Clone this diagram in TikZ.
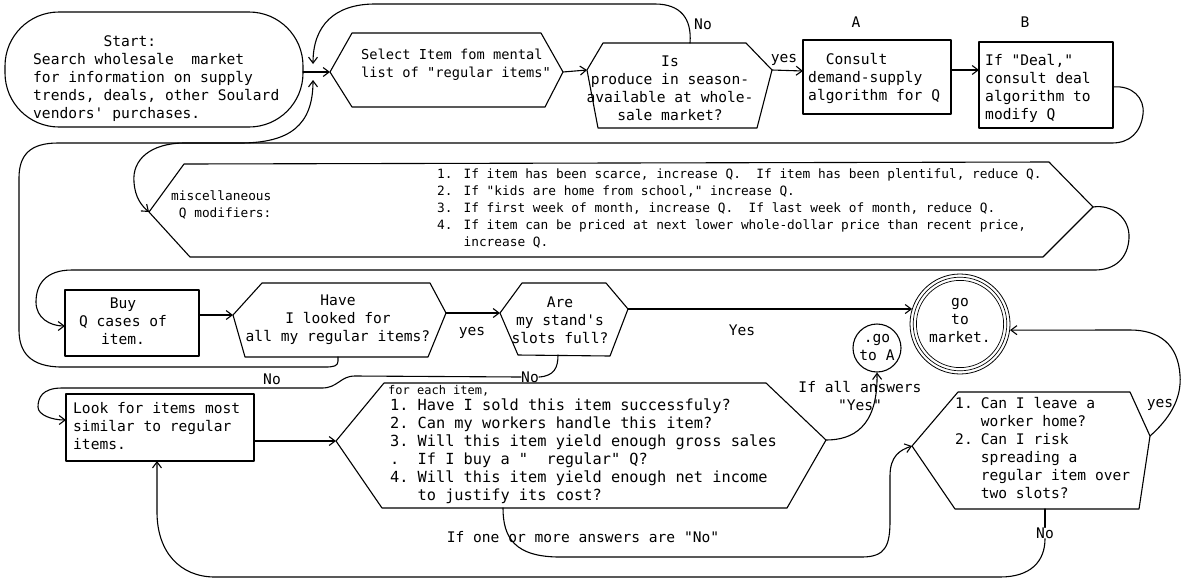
\documentclass[tikz,border=0pt]{standalone}
\usepackage{fontspec}
\setmonofont{DejaVu Sans Mono}
\usetikzlibrary{arrows.meta}
\begin{document}
\begin{tikzpicture}[x=1pt,y=-1pt,
  ln/.style={line width=1.1pt,line cap=round,line join=round},
  arr/.style={ln,-{Straight Barb[length=6pt,width=9pt]}},
  shp/.style={ln},
  tx/.style={font=\ttfamily\fontsize{14.6}{18}\selectfont,inner sep=0pt,align=left},
  txc/.style={tx,align=center},
  tlist/.style={font=\ttfamily\fontsize{15.3}{18}\selectfont,inner sep=0pt},
  tsm/.style={font=\ttfamily\fontsize{12.8}{17.2}\selectfont,inner sep=0pt},
  lab/.style={font=\ttfamily\fontsize{14.6}{17}\selectfont,inner sep=0pt},
]
\useasboundingbox (0,0) rectangle (1185,582);

% ================= Row 1
\draw[shp,rounded corners=54pt] (5,12) rectangle (303,127);
\node[tx,anchor=west] (start) at (33,79) {~~~~~~~~Start:\\Search wholesale~~market\\for information on supply\\trends, deals, other Soulard\\vendors' purchases.};
\coordinate (startE) at (303,72);
\coordinate (Jt) at (313,64);
\coordinate (Jb) at (313,80);

% Select hexagon
\coordinate (selL) at (330,72);
\coordinate (selTL) at (352,33);
\coordinate (selTR) at (541,33);
\coordinate (selR) at (563,72);
\coordinate (selBR) at (545,107);
\coordinate (selBL) at (352,107);
\draw[shp] (selL) -- (selTL) -- (selTR) -- (selR) -- (selBR) -- (selBL) -- cycle;
\node[tx,anchor=west,font=\ttfamily\fontsize{13.7}{18}\selectfont] (seltx) at (361,65) {Select Item fom mental\\list of "regular items"};
\draw[arr] (startE) -- (selL);

% Is produce hexagon
\coordinate (isL) at (587,70);
\coordinate (isTL) at (603,43);
\coordinate (isTR) at (746,43);
\coordinate (isR) at (772,70);
\coordinate (isBR) at (757,128);
\coordinate (isBL) at (598,128);
\coordinate (isTop) at (690,43);
\draw[shp] (isL) -- (isTL) -- (isTR) -- (isR) -- (isBR) -- (isBL) -- cycle;
\node[txc] (istx) at (670,88) {Is\\produce in season-\\available at whole-\\sale market?};
\draw[arr] (selR) -- (isL);
\node[lab] (no1) at (703,24) {No};
\draw[arr] (isTop) .. controls (692,18) and (680,4) .. (655,4) -- (375,4) .. controls (335,4) and (313,25) .. (Jt);

% Consult box (A)
\coordinate (consW) at (803,71);
\coordinate (consE) at (951,70);
\draw[shp] (803,40) rectangle (951,114);
\node[tx,anchor=west] (constx) at (808,78) {~~Consult\\demand-supply\\algorithm for Q};
\node[lab] (lA) at (856,22) {A};
\node[lab] (yes1) at (784,60) {yes};
\draw[arr] (isR) -- (consW);

% Deal box (B)
\coordinate (bW) at (979,70);
\coordinate (bE) at (1113,87);
\draw[shp] (979,42) rectangle (1113,128);
\node[tx,anchor=west] (btx) at (985,88) {If "Deal,"\\consult deal\\algorithm to\\modify Q};
\node[lab] (lB) at (1025,22) {B};
\draw[arr] (consE) -- (bW);

% ================= Row 2 : miscellaneous modifiers
\coordinate (mL) at (149,212);
\coordinate (mTL) at (184,164);
\coordinate (mTR) at (1049,162);
\coordinate (mR) at (1093,207);
\coordinate (mBR) at (1043,257);
\coordinate (mBL) at (190,257);
\draw[shp] (mL) -- (mTL) -- (mTR) -- (mR) -- (mBR) -- (mBL) -- cycle;
\node[tsm,anchor=west,align=left] (misclab) at (171,205) {miscellaneous\\~Q modifiers:};
\node[tsm,anchor=west] (misclist) at (437,209) {\begin{tabular}{@{}l@{\hspace{11pt}}l@{}}
1. & If item has been scarce, increase Q.~~If item has been plentiful, reduce Q.\\
2. & If "kids are home from school," increase Q.\\
3. & If first week of month, increase Q.~~If last week of month, reduce Q.\\
4. & If item can be priced at next lower whole-dollar price than recent price,\\
   & increase Q.
\end{tabular}};

% B -> misc
\draw[arr] (bE) .. controls (1132,85) and (1145,98) .. (1143,114) .. controls (1141,132) and (1130,143) .. (1112,143) -- (185,143) .. controls (150,143) and (132,160) .. (134,182) .. controls (135,198) and (142,206) .. (mL);

% ================= Row 3
\coordinate (buyW) at (65,326);
\coordinate (buyE) at (199,315);
\draw[shp] (65,290) rectangle (199,356);
\node[txc] (buytx) at (123,321) {Buy\\Q cases of\\item.};
\draw[arr] (mR) .. controls (1112,204) and (1130,218) .. (1129,238) .. controls (1128,258) and (1115,270) .. (1095,270) -- (72,270) .. controls (45,270) and (36,285) .. (36,302) .. controls (36,318) and (50,326) .. (buyW);

% Have I looked hexagon
\coordinate (haveL) at (233,315);
\coordinate (haveTL) at (262,283);
\coordinate (haveTR) at (430,283);
\coordinate (haveR) at (446,313);
\coordinate (haveBR) at (428,357);
\coordinate (haveBL) at (245,357);
\coordinate (haveB) at (338,357);
\draw[shp] (haveL) -- (haveTL) -- (haveTR) -- (haveR) -- (haveBR) -- (haveBL) -- cycle;
\node[txc] (havetx) at (338,320) {Have\\I looked for\\all my regular items?};
\draw[arr] (buyE) -- (haveL);

% Are slots full hexagon
\coordinate (areL) at (500,313);
\coordinate (areTL) at (522,283);
\coordinate (areTR) at (606,283);
\coordinate (areR) at (628,309);
\coordinate (areBR) at (610,356);
\coordinate (areBL) at (518,355);
\coordinate (areB) at (558,355);
\draw[shp] (areL) -- (areTL) -- (areTR) -- (areR) -- (areBR) -- (areBL) -- cycle;
\node[txc] (aretx) at (560,320) {Are\\my stand's\\slots full?};
\node[lab] (yes2) at (472,333) {yes};
\draw[arr] (haveR) -- (areL);

% go to market
\node[circle,draw,line width=0.8pt,minimum size=100pt,inner sep=0pt] (mk) at (960,324) {};
\draw[line width=0.7pt] (mk.center) circle[radius=46.8pt];
\draw[line width=0.7pt] (mk.center) circle[radius=43.6pt];
\node[txc] (mktx) at (960,321) {go\\to\\market.};
\node[lab] (yes3) at (742,330) {Yes};
\draw[arr] (areR) -- (areR -| mk.162);

% go to A
\node[circle,draw,ln,minimum size=48pt,inner sep=0pt,txc] (ga) at (877,348) {.go\\to A};
\node[txc] (ifall) at (860,396) {If all answers\\"Yes"};

% Have -> No loop back to select
\node[lab] (noHave) at (272,379) {No};
\draw[arr] (haveB) -- (338,361) .. controls (338,366) and (334,367) .. (325,367) -- (62,367) .. controls (30,367) and (19,352) .. (19,330) -- (19,178) .. controls (19,155) and (30,143) .. (58,143) -- (240,143) .. controls (290,143) and (313,125) .. (Jb);

% Are -> No loop to Look
\node[lab] (noAre) at (530,377) {No};
\coordinate (lookW) at (66,420);
\draw[ln] (areB) .. controls (558,368) and (554,376) .. (noAre.east);
\draw[arr] (noAre.west) -- (355,376) .. controls (340,376) and (338,388) .. (322,388) -- (62,388) .. controls (42,388) and (38,398) .. (38,407) .. controls (38,415) and (52,420) .. (lookW);

% ================= Row 4
\coordinate (lookE) at (254,441);
\coordinate (lookS) at (157,461);
\draw[shp] (66,394) rectangle (254,461);
\node[tx,anchor=west] (looktx) at (73,426) {Look for items most\\similar to regular\\items.};

% Questions hexagon
\coordinate (qL) at (336,441);
\coordinate (qTL) at (384,383);
\coordinate (qTR) at (766,383);
\coordinate (qR) at (826,440);
\coordinate (qBR) at (787,508);
\coordinate (qBL) at (382,508);
\coordinate (qB) at (503,508);
\draw[shp] (qL) -- (qTL) -- (qTR) -- (qR) -- (qBR) -- (qBL) -- cycle;
\node[tsm,anchor=west,font=\ttfamily\fontsize{12}{14}\selectfont] (foreach) at (388,391) {for each item,};
\node[tlist,anchor=west] (qlist) at (390,452) {\begin{tabular}{@{}l@{\hspace{9pt}}l@{}}
1. & Have I sold this item successfuly?\\
2. & Can my workers handle this item?\\
3. & Will this item yield enough gross sales\\
.  & If I buy a "~~regular" Q?\\
4. & Will this item yield enough net income\\
   & to justify its cost?
\end{tabular}};
\draw[arr] (lookE) -- (qL);
\draw[arr] (qR) .. controls (852,440) and (878,428) .. (ga.south);

% Right hexagon
\coordinate (rhL) at (912,446);
\coordinate (rhTL) at (958,392);
\coordinate (rhTR) at (1130,392);
\coordinate (rhR) at (1150,436);
\coordinate (rhBR) at (1139,509);
\coordinate (rhBL) at (955,509);
\coordinate (rhB) at (1045,509);
\draw[shp] (rhL) -- (rhTL) -- (rhTR) -- (rhR) -- (rhBR) -- (rhBL) -- cycle;
\node[tx,anchor=west] (rhlist) at (955,450) {\begin{tabular}{@{}l@{\hspace{8pt}}l@{}}
1. & Can I leave a\\
   & worker home?\\
2. & Can I risk\\
   & spreading a\\
   & regular item over\\
   & two slots?
\end{tabular}};
\node[lab] (yes4) at (1160,405) {yes};
\draw[arr] (rhR) .. controls (1168,420) and (1182,400) .. (1180,375) .. controls (1178,345) and (1160,330) .. (1130,330) -- (mk.-7);

% If one or more answers are No
\node[lab] (ifone) at (583,537) {If one or more answers are "No"};
\draw[arr] (qB) .. controls (503,538) and (515,557) .. (560,557) -- (862,557) .. controls (886,557) and (890,545) .. (890,520) -- (890,476) .. controls (890,456) and (900,450) .. (rhL);

% bottom loop
\node[lab] (noR) at (1045,533) {No};
\draw[ln] (rhB) -- (noR.north);
\draw[arr] (noR.south) .. controls (1045,562) and (1030,577) .. (1000,577) -- (215,577) .. controls (180,577) and (157,552) .. (157,512) -- (lookS);

\end{tikzpicture}
\end{document}
